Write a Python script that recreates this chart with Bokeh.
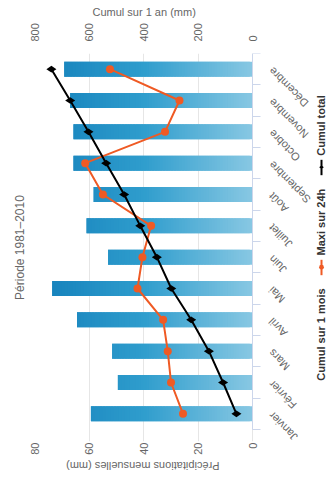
import math
from bokeh.plotting import figure
from bokeh.models import (Range1d, LinearAxis, FixedTicker, ColumnDataSource,
                          Legend, LegendItem, Grid, InlineStyleSheet, Title)
from bokeh.embed import file_html
from bokeh.resources import INLINE

# ---------------- data ----------------
months = ["Janvier", "Février", "Mars", "Avril", "Mai", "Juin", "Juillet",
          "Août", "Septembre", "Octobre", "Novembre", "Décembre"]
cumul_mois = [59.3, 49.4, 51.5, 64.4, 73.5, 53.0, 60.9, 58.3, 65.7, 65.7, 66.9, 69.1]
maxi_24h = [25.5, 29.9, 31.1, 32.8, 42.2, 40.4, 37.2, 54.9, 61.4, 32.1, 26.8, 52.3]
cumul_total = [59, 108, 160, 225, 298, 351, 412, 471, 537, 602, 669, 738]
precip_ticks = [0, 20, 40, 60, 80]
cumul_ticks = [0, 200, 400, 600, 800]
subtitle = "Période 1981–2010"
title_left = "Précipitations mensuelles (mm)"
title_right = "Cumul sur 1 an (mm)"

FONT = "Liberation Sans"
TXT = "#666666"
S = 489          # square canvas: chart drawn upright, then turned 90° left by CSS
TOP = 34         # space above the plot area
PLOT_H = 218     # pixels used by the 0..80 mm scale
BELOW = S - TOP - PLOT_H   # frame continues below 0 to hold month labels + legend
EXTRA_L = 12     # frame continues a little left so the first month label is not clipped
BAND = 376 / 12  # pixels per month

idx = list(range(len(months)))

# gradient bars (dark at high values, light near 0)
stops = [(0, (0x88, 0xc8, 0xe3)), (40, (0x2f, 0x9d, 0xcd)), (80, (0x13, 0x7f, 0xba))]


def color_at(v):
    for (v0, c0), (v1, c1) in zip(stops[:-1], stops[1:]):
        if v <= v1:
            t = max(0.0, min(1.0, (v - v0) / (v1 - v0)))
            return "#%02x%02x%02x" % tuple(round(a + (b - a) * t) for a, b in zip(c0, c1))
    return "#%02x%02x%02x" % stops[-1][1]


seg = dict(x=[], bottom=[], top=[], color=[])
step = 1.0
for i, v in zip(idx, cumul_mois):
    lo = 0.0
    while lo < v:
        seg["x"].append(i)
        seg["bottom"].append(lo)
        seg["top"].append(min(lo + 2 * step, v))
        seg["color"].append(color_at(lo + step / 2))
        lo += step

rotate_css = InlineStyleSheet(css="""
.bk-Canvas {
  transform-origin: 0 0;
  transform: translate(0px, %dpx) rotate(-90deg);
}
""" % S)

pmax = precip_ticks[-1]
cmax = cumul_ticks[-1]
p = figure(width=S, height=S,
           x_range=Range1d(-0.5 - EXTRA_L / BAND, len(months) - 0.5),
           y_range=Range1d(-pmax * BELOW / PLOT_H, pmax),
           x_axis_type=None, y_axis_type=None,
           output_backend="svg", toolbar_location=None,
           min_border_left=59 - EXTRA_L, min_border_right=54,
           min_border_top=TOP, min_border_bottom=0,
           background_fill_color="white", border_fill_color="white",
           title=subtitle,
           stylesheets=[rotate_css])
p.outline_line_color = None
p.extra_y_ranges = {"cumul": Range1d(-cmax * BELOW / PLOT_H, cmax)}

p.title.align = "center"
p.title.text_font = FONT
p.title.text_font_size = "12px"
p.title.text_font_style = "normal"
p.title.text_color = TXT
p.title.standoff = 15

grid = Grid(dimension=1, ticker=FixedTicker(ticks=precip_ticks),
            grid_line_color="#e6e6e6", grid_line_width=1)
p.add_layout(grid)

ax_l = LinearAxis(ticker=FixedTicker(ticks=precip_ticks))
ax_r = LinearAxis(y_range_name="cumul", ticker=FixedTicker(ticks=cumul_ticks))
for ax in (ax_l, ax_r):
    ax.axis_line_color = None
    ax.major_tick_line_color = None
    ax.minor_tick_line_color = None
    ax.major_tick_out = 0
    ax.major_tick_in = 0
    ax.minor_tick_out = 0
    ax.minor_tick_in = 0
    ax.major_label_text_font = FONT
    ax.major_label_text_font_size = "11px"
    ax.major_label_text_color = TXT
ax_l.major_label_standoff = 13 - EXTRA_L
ax_r.major_label_standoff = 12
p.add_layout(ax_l, "left")
p.add_layout(ax_r, "right")

# axis titles centred on the 0..80 / 0..800 part of the plot
mid = TOP + PLOT_H / 2
len_l, len_r = 153, 103      # approx. rendered lengths of the two titles
t_l = Title(text=title_left, align="left", offset=round(S - (mid + len_l / 2)),
            standoff=4, text_font=FONT, text_font_size="11px",
            text_font_style="normal", text_color=TXT)
t_r = Title(text=title_right, align="left", offset=round(mid - len_r / 2 - TOP),
            standoff=5, text_font=FONT, text_font_size="11px",
            text_font_style="normal", text_color=TXT)
p.add_layout(t_l, "left")
p.add_layout(t_r, "right")

# month axis sits at 0 mm, ticks between months
ax_b = LinearAxis(ticker=FixedTicker(ticks=idx,
                                     minor_ticks=[i - 0.5 for i in range(len(months) + 1)]),
                  major_label_overrides={i: m for i, m in zip(idx, months)},
                  major_label_orientation=math.pi / 4, fixed_location=0,
                  bounds=(-0.5, len(months) - 0.5))
ax_b.axis_line_color = "#ccd6eb"
ax_b.major_tick_line_color = None
ax_b.major_tick_out = 0
ax_b.major_tick_in = 0
ax_b.minor_tick_line_color = "#ccd6eb"
ax_b.minor_tick_out = 8
ax_b.minor_tick_in = 0
ax_b.major_label_standoff = 10
ax_b.major_label_text_font = FONT
ax_b.major_label_text_font_size = "11px"
ax_b.major_label_text_color = TXT
p.add_layout(ax_b, "below")

p.vbar(x="x", bottom="bottom", top="top", width=0.48, fill_color="color",
       line_color=None, source=ColumnDataSource(seg))
dot_r = p.scatter(x=[], y=[], marker="circle", size=10, fill_color="#1a88c0", line_color=None)

ORANGE = "#ef5a24"
mx_l = p.line(idx, maxi_24h, line_color=ORANGE, line_width=2)
mx_p = p.scatter(idx, maxi_24h, marker="circle", size=8, fill_color=ORANGE, line_color=None)

ct_l = p.line(idx, cumul_total, line_color="black", line_width=2, y_range_name="cumul")
ct_p = p.scatter(idx, cumul_total, marker="diamond", size=10, fill_color="black",
                 line_color=None, y_range_name="cumul")

legend = Legend(items=[LegendItem(label="Cumul sur 1 mois", renderers=[dot_r]),
                       LegendItem(label="Maxi sur 24h", renderers=[mx_l, mx_p]),
                       LegendItem(label="Cumul total", renderers=[ct_l, ct_p])],
                orientation="horizontal", location="bottom_center",
                label_text_font=FONT, label_text_font_size="11px",
                label_text_font_style="bold", label_text_color="#333333",
                glyph_width=16, glyph_height=12, label_height=12,
                label_standoff=4, spacing=13, padding=1, margin=S - 327,
                border_line_color=None, background_fill_color=None)
p.add_layout(legend)

open("out.html", "w").write(file_html(p, INLINE))
